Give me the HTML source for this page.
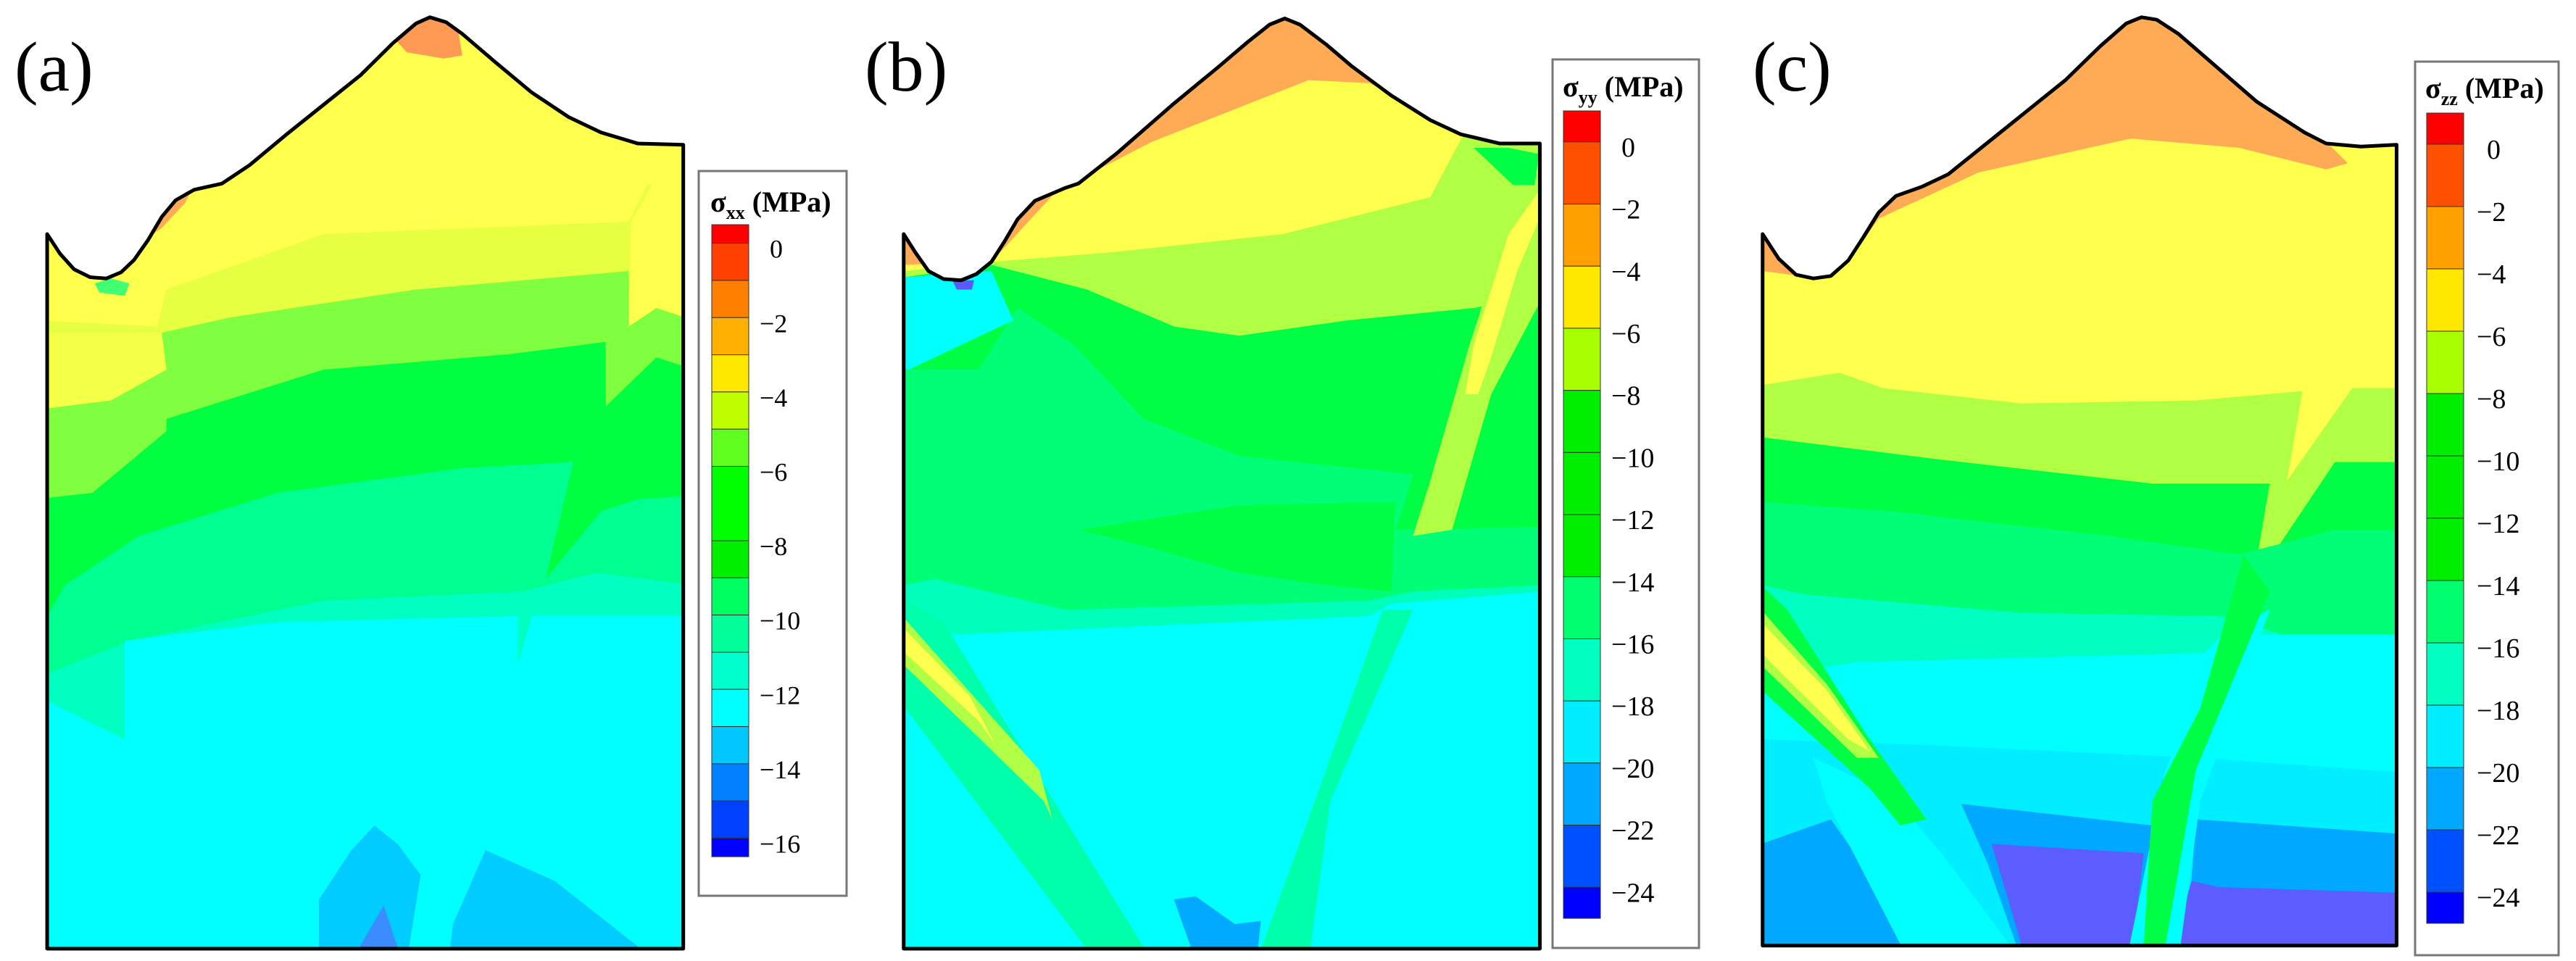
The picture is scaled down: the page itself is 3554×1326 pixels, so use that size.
<!DOCTYPE html>
<html><head><meta charset="utf-8"><style>
html,body{margin:0;padding:0;background:#fff}
svg{display:block}
svg text, svg tspan{font-family:"Liberation Serif","Times New Roman",Times,serif !important}
</style></head><body>
<svg id="fig" xmlns="http://www.w3.org/2000/svg" width="3554" height="1326" viewBox="0 0 3554 1326" style="font-family:'Liberation Serif',serif">
<rect width="3554" height="1326" fill="#fff"/>
<text x="20" y="125" font-size="98" style="font-family:'Liberation Serif',serif">(a)</text>
<text x="1193" y="125" font-size="98" style="font-family:'Liberation Serif',serif">(b)</text>
<text x="2418" y="125" font-size="98" style="font-family:'Liberation Serif',serif">(c)</text>
</svg>
<script>
const NS='http://www.w3.org/2000/svg';
const svg=document.getElementById('fig');
const FONTSTYLE="font-family:'Liberation Serif',serif";
// ---- legend data ----
const edgesA=[0.5,0,-1,-2,-3,-4,-5,-6,-8,-9,-10,-11,-12,-13,-14,-15,-16,-16.5];
const colorsA=['#ff0000','#ff4000','#ff8000','#ffb000','#ffe800','#c0ff00','#60ff20','#00ff00','#00ee00','#00ff60','#00ff99','#00ffcc','#00ffff','#00c8ff','#0080ff','#0040ff','#0000ff'];
const ticksA=[0,-2,-4,-6,-8,-10,-12,-14,-16];
const edgesBC=[1,0,-2,-4,-6,-8,-10,-12,-14,-16,-18,-20,-22,-24,-25];
const colorsBC=['#ff0000','#ff5000','#ffa000','#ffe800','#a8ff00','#00ee00','#00ee00','#00ee00','#00ff70','#00ffc0','#00eeff','#00a8ff','#0050ff','#0000ff'];
const ticksBC=[0,-2,-4,-6,-8,-10,-12,-14,-16,-18,-20,-22,-24];

function mk(tag,parent){const e=document.createElementNS(NS,tag);parent.appendChild(e);return e;}
function fmt(v){return v===0?'0':'\u2212'+Math.abs(v);}

function legend(cfg,edges,colors,ticks,key){
  const g=mk('g',svg);
  
  
  const y=v=>cfg.y0+(cfg.top-v)*cfg.unit;
  const box=mk('rect',g);
  
  
  box.setAttribute('x',cfg.bx);box.setAttribute('y',cfg.by);
  box.setAttribute('width',cfg.bw);box.setAttribute('height',cfg.bh);
  box.setAttribute('fill','#fff');box.setAttribute('stroke','#777');box.setAttribute('stroke-width','3');
  const t=mk('text',g);
  
  
  t.setAttribute('x',cfg.tx);t.setAttribute('y',cfg.ty);
  t.setAttribute('style',FONTSTYLE);
  t.setAttribute('font-size','40');t.setAttribute('font-weight','bold');
  t.innerHTML='σ<tspan font-size="26" dy="10">'+cfg.sub+'</tspan><tspan dy="-10"> (MPa)</tspan>';
  for(let i=0;i<colors.length;i++){
    const r=mk('rect',g);
    
    
    r.setAttribute('x',cfg.cx);r.setAttribute('width',cfg.cw);
    r.setAttribute('y',y(edges[i]));r.setAttribute('height',y(edges[i+1])-y(edges[i]));
    r.setAttribute('fill',colors[i]);r.setAttribute('stroke','#333');r.setAttribute('stroke-width','1');
  }
  ticks.forEach(v=>{
    const l=mk('text',g);
    
    
    l.setAttribute('x',v===0?cfg.lx+14:cfg.lx);
    l.setAttribute('y',y(v)+cfg.loff);
    l.setAttribute('style',FONTSTYLE);
    l.setAttribute('font-size',cfg.fs);
    l.setAttribute('dominant-baseline','central');
    l.textContent=fmt(v);
  });
}
legend({bx:964,by:236,bw:204,bh:1000,cx:982,cw:51,y0:310,top:0.5,unit:51.3,tx:980,ty:292,sub:'xx',lx:1048,loff:8,fs:36},edgesA,colorsA,ticksA,'a');
legend({bx:2142,by:82,bw:202,bh:1226,cx:2157,cw:51,y0:153,top:1,unit:42.85,tx:2156,ty:133,sub:'yy',lx:2223,loff:8,fs:38},edgesBC,colorsBC,ticksBC,'b');
legend({bx:3332,by:85,bw:198,bh:1233,cx:3348,cw:51,y0:156,top:1,unit:43.0,tx:3346,ty:135,sub:'zz',lx:3417,loff:8,fs:38},edgesBC,colorsBC,ticksBC,'c');

// ---- contour panels (region boundaries in panel-local units) ----
const outlineA=[[102,380],[130,412],[160,437],[195,450],[230,452],[262,442],[290,422],[320,390],[350,352],[380,325],[420,308],[480,298],[540,268],[620,218],[700,170],[780,122],[850,70],[900,38],[930,28],[965,36],[1000,55],[1070,100],[1150,150],[1230,190],[1300,215],[1380,233],[1478,235],[1478,1540],[102,1540]];
const outlineB=[[28,380],[55,410],[85,440],[120,453],[160,455],[195,445],[230,425],[260,392],[290,356],[330,326],[400,305],[430,298],[520,248],[650,168],[750,110],[820,68],[870,40],[905,30],[940,40],[1000,72],[1060,108],[1150,155],[1240,195],[1310,218],[1400,233],[1492,233],[1492,1540],[28,1540]];
const outlineC=[[3,380],[40,420],[80,446],[120,452],[160,448],[200,423],[235,385],[270,345],[310,318],[370,303],[430,283],[550,215],[700,130],[780,75],[840,38],[875,28],[910,32],[960,55],[1050,110],[1140,165],[1250,215],[1300,233],[1380,238],[1462,235],[1462,1535],[3,1535]];

const regionsA=[
 ['#ffff4d','poly',[[0,0],[1600,0],[1600,1600],[0,1600]]],
 ['#e6ff40','below',[[80,520],[340,530],[360,470],[700,380],[1360,360],[1400,300],[1500,300]]],
 ['#ffff4d','poly',[[1365,360],[1410,300],[1480,290],[1480,520],[1420,500],[1360,530]]],
 ['#f4ff48','poly',[[80,540],[350,540],[360,600],[240,650],[80,665]]],
 ['#80ff40','below',[[80,665],[240,650],[360,600],[350,540],[500,515],[900,470],[1360,440],[1360,530],[1420,500],[1500,520]]],
 ['#00ff40','below',[[80,810],[200,800],[360,700],[360,680],[700,600],[1100,575],[1310,555],[1310,660],[1420,580],[1500,600]]],
 ['#00ff90','below',[[80,1030],[140,950],[300,870],[600,800],[1000,760],[1240,750],[1180,940],[1300,830],[1380,810],[1500,805]]],
 ['#00ffc0','below',[[80,1100],[280,1040],[700,975],[1130,960],[1290,930],[1500,950]]],
 ['#00ffff','below',[[80,1130],[270,1200],[270,1040],[600,1010],[1120,1000],[1120,1080],[1150,1000],[1500,1000]]],
 ['#00ccff','poly',[[690,1460],[760,1380],[810,1340],[860,1370],[910,1420],[880,1560],[690,1560]]],
 ['#00ccff','poly',[[980,1500],[1050,1380],[1200,1430],[1420,1560],[970,1560]]],
 ['#3a8cff','poly',[[760,1560],[830,1470],[870,1560]]],
 ['#ff9a55','poly',[[850,60],[930,20],[990,45],[1000,90],[960,95],[880,85]]],
 ['#ffaa55','poly',[[330,380],[380,320],[420,300],[400,330],[350,370]]],
 ['#40ff70','poly',[[205,460],[240,452],[280,460],[270,480],[215,475]]]
];
const regionsB=[
 ['#ffaa55','poly',[[0,0],[1600,0],[1600,1600],[0,1600]]],
 ['#ffff4d','below',[[28,430],[230,425],[380,310],[600,230],[960,130],[1100,135],[1200,170],[1300,210],[1500,225]]],
 ['#b0ff45','below',[[28,440],[230,425],[500,410],[900,380],[1240,320],[1300,240],[1320,215],[1500,215]]],
 ['#00ff44','below',[[28,450],[230,430],[450,470],[650,530],[800,545],[1050,520],[1340,500],[1500,480]]],
 ['#00ff77','below',[[28,600],[200,600],[290,500],[420,560],[580,680],[800,740],[1200,770],[1160,860],[1500,855]]],
 ['#00ff44','poly',[[430,860],[800,820],[1160,815],[1150,960],[1000,950],[800,930],[600,890]]],
 ['#00ffbb','below',[[28,950],[100,940],[400,990],[1100,975],[1200,960],[1500,950]]],
 ['#00ffff','below',[[28,1010],[150,1030],[1100,1000],[1150,980],[1500,960]]],
 ['#00ffff','poly',[[28,450],[230,440],[280,520],[40,600],[0,600]]],
 ['#00ffaa','poly',[[0,960],[120,1010],[600,1560],[470,1560],[0,1120]]],
 ['#b0ff45','poly',[[0,980],[100,1060],[340,1250],[370,1330],[350,1300],[0,1060]]],
 ['#ffff4d','poly',[[0,1000],[180,1130],[240,1210],[200,1170],[0,1040]]],
 ['#00ffaa','poly',[[1130,990],[1200,990],[1010,1300],[960,1560],[840,1560],[1000,1250]]],
 ['#b0ff45','poly',[[1200,870],[1240,780],[1330,560],[1430,340],[1500,290],[1500,480],[1380,640],[1290,860]]],
 ['#ffff4d','poly',[[1320,640],[1340,560],[1420,380],[1500,300],[1500,340],[1440,440],[1380,580],[1350,640]]],
 ['#00ff44','poly',[[1340,240],[1420,240],[1490,250],[1480,300],[1430,300],[1370,260]]],
 ['#00aaff','poly',[[650,1460],[700,1455],[790,1500],[850,1495],[840,1560],[700,1560]]],
 ['#5a5aff','poly',[[140,455],[190,455],[185,470],[150,470]]]
];
const regionsC=[
 ['#ffaa55','poly',[[0,0],[1600,0],[1600,1600],[0,1600]]],
 ['#ffff4d','below',[[3,440],[130,452],[200,425],[270,355],[500,280],[850,225],[1100,240],[1300,275],[1350,265],[1300,230],[1500,230]]],
 ['#b0ff45','below',[[3,625],[180,605],[280,630],[600,655],[1000,650],[1245,635],[1210,780],[1360,630],[1500,630]]],
 ['#00ff44','below',[[3,710],[400,745],[900,785],[1170,785],[1130,950],[1320,750],[1500,750]]],
 ['#00ff77','below',[[3,815],[300,830],[800,870],[1100,900],[1320,860],[1500,860]]],
 ['#00ffc0','below',[[3,950],[100,965],[600,995],[1060,1000],[1200,1030],[1500,1040]]],
 ['#00ffff','below',[[3,1100],[220,1075],[1020,1060],[1060,1030],[1500,1030]]],
 ['#00eeff','below',[[3,1200],[400,1210],[1000,1230],[1500,1255]]],
 ['#00a8ff','poly',[[460,1305],[900,1340],[880,1560],[600,1560],[520,1400]]],
 ['#00a8ff','poly',[[1000,1330],[1500,1355],[1500,1560],[950,1560],[990,1430]]],
 ['#00a8ff','poly',[[0,1370],[160,1330],[330,1500],[340,1560],[0,1560]]],
 ['#5c5cff','poly',[[530,1370],[880,1385],[850,1560],[610,1560]]],
 ['#5c5cff','poly',[[990,1430],[1050,1440],[1500,1450],[1500,1560],[940,1560]]],
 ['#00ffff','poly',[[120,1230],[300,1290],[420,1390],[600,1560],[340,1560],[150,1300]]],
 ['#00ff44','poly',[[0,950],[60,990],[240,1190],[380,1330],[320,1340],[250,1280],[0,1120]]],
 ['#b0ff45','poly',[[0,990],[150,1110],[270,1230],[220,1230],[0,1080]]],
 ['#ffff4d','poly',[[0,1010],[150,1120],[250,1220],[200,1200],[0,1060]]],
 ['#00ffff','poly',[[1060,1030],[1170,990],[1010,1300],[960,1560],[840,1560],[930,1250]]],
 ['#00ff44','poly',[[1110,900],[1170,960],[1000,1250],[930,1535],[880,1535],[900,1300],[1010,1150]]]
];

function panel(tx,sx,outline,regions,key){
  const g=mk('g',svg);
  
  
  g.setAttribute('transform','translate('+tx+',0) scale('+sx+',0.85)');
  const cp=mk('clipPath',g);
  cp.setAttribute('id','clip-'+key);
  const cpp=mk('polygon',cp);
  cpp.setAttribute('points',outline.map(p=>p.join(',')).join(' '));
  const inner=mk('g',g);
  inner.setAttribute('clip-path','url(#clip-'+key+')');
  regions.forEach(r=>{
    let pts=r[2];
    if(r[1]==='below') pts=pts.concat([[1600,1600],[-50,1600]]);
    const p=mk('polygon',inner);
    
    
    p.setAttribute('points',pts.map(q=>q.join(',')).join(' '));
    p.setAttribute('fill',r[0]);
  });
  const o=mk('polygon',g);
  
  
  o.setAttribute('points',outline.map(p=>p.join(',')).join(' '));
  o.setAttribute('fill','none');o.setAttribute('stroke','#000');o.setAttribute('stroke-width','5');
  o.setAttribute('vector-effect','non-scaling-stroke');o.setAttribute('stroke-linejoin','round');
}
panel(0,0.6378,outlineA,regionsA,'a');
panel(1230,0.5995,outlineB,regionsB,'b');
panel(2430,0.5995,outlineC,regionsC,'c');
</script>
</body></html>
